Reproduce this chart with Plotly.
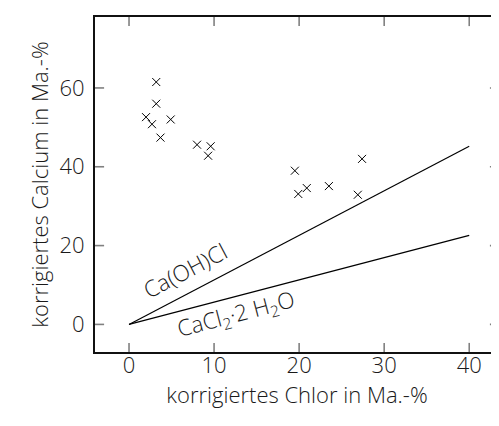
import plotly.graph_objects as go

# measured points
chlor = [3.2, 3.2, 2.0, 2.7, 4.9, 3.7, 8.0, 9.6, 9.3, 19.5, 19.9, 20.9, 23.5, 27.4, 26.9]
calcium = [61.5, 56.0, 52.6, 50.8, 52.0, 47.4, 45.6, 45.2, 42.8, 39.0, 33.1, 34.6, 35.1, 42.0, 32.9]

# reference lines
line_x = [0, 40]
caohcl_y = [0, 45.2]
cacl2_y = [0, 22.6]

x_ticks = [0, 10, 20, 30, 40]
y_ticks = [0, 20, 40, 60]
x_range = [-4, 43.5]
y_range = [-7, 78]

font_fam = "Open Sans"
txt_col = "#1a1a1a"

fig = go.Figure()
fig.add_trace(go.Scatter(x=line_x, y=caohcl_y, mode="lines",
                         line=dict(color="black", width=1.2), showlegend=False))
fig.add_trace(go.Scatter(x=line_x, y=cacl2_y, mode="lines",
                         line=dict(color="black", width=1.2), showlegend=False))
fig.add_trace(go.Scatter(x=chlor, y=calcium, mode="markers",
                         marker=dict(symbol="x-thin", size=8,
                                     line=dict(color="black", width=1)),
                         showlegend=False))

# inner tick marks on all four sides, as half-clipped line markers on the frame
tick_marker = dict(size=13, color="#808080", line=dict(color="#808080", width=1.6))
fig.add_trace(go.Scatter(x=x_ticks * 2, y=[y_range[0]] * len(x_ticks) + [y_range[1]] * len(x_ticks),
                         mode="markers", marker=dict(symbol="line-ns", **tick_marker),
                         cliponaxis=True, showlegend=False, hoverinfo="skip"))
fig.add_trace(go.Scatter(x=[x_range[0]] * len(y_ticks) + [x_range[1]] * len(y_ticks), y=y_ticks * 2,
                         mode="markers", marker=dict(symbol="line-ew", **tick_marker),
                         cliponaxis=True, showlegend=False, hoverinfo="skip"))

fig.add_annotation(x=6.6, y=13.6, text="Ca(OH)Cl", showarrow=False, textangle=-27.7,
                   font=dict(family=font_fam, size=22.5, color=txt_col, weight=300))
fig.add_annotation(x=12.6, y=2.4, text="CaCl<sub>2</sub>·2 H<sub>2</sub>O", showarrow=False,
                   textangle=-14.7,
                   font=dict(family=font_fam, size=22.5, color=txt_col, weight=300))

axis_common = dict(showline=True, linecolor="#111", linewidth=2, mirror=True,
                   ticks="", showgrid=False, zeroline=False, automargin=False,
                   tickfont=dict(family=font_fam, size=22, color=txt_col, weight=300))

fig.update_xaxes(range=x_range, tickvals=x_ticks, ticklabelstandoff=-7,
                 title=dict(text="korrigiertes Chlor in Ma.-%", standoff=3,
                            font=dict(family=font_fam, size=22, color=txt_col, weight=300)),
                 **axis_common)
fig.update_yaxes(range=y_range, tickvals=y_ticks, ticklabelstandoff=4,
                 title=dict(text="korrigiertes Calcium in Ma.-%", standoff=5,
                            font=dict(family=font_fam, size=22, color=txt_col, weight=300)),
                 **axis_common)

# page body adds an 8 px offset, so size and margins are reduced by that
fig.update_layout(width=491, height=418, margin=dict(l=87, r=0, t=9, b=74),
                  plot_bgcolor="white", paper_bgcolor="white")

fig.write_html("out.html")
